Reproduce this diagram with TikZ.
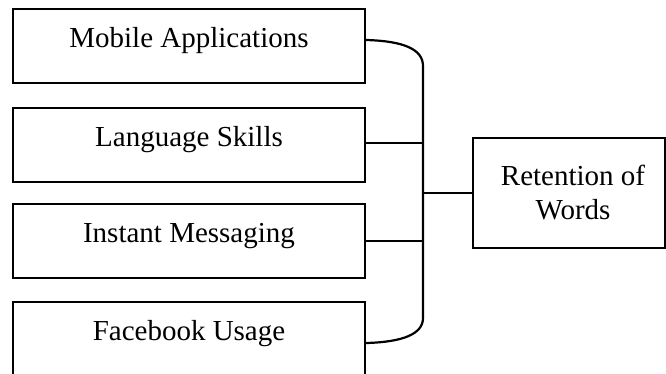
\documentclass[tikz,border=0pt]{standalone}
\usepackage{fontspec}
\setmainfont{Liberation Serif}
\begin{document}
\begin{tikzpicture}[x=1pt,y=-1pt,
  box/.style={draw, line width=2.2pt, minimum width=352pt, minimum height=74pt,
    inner sep=0pt, text height=20pt, text depth=18pt},
  outbox/.style={draw, line width=2.2pt, minimum width=192pt, minimum height=110pt,
    inner sep=0pt, align=center},
  conn/.style={line width=2.2pt}]
\useasboundingbox (0,0) rectangle (666,373);
\clip (0,0) rectangle (666,373);
\fontsize{29}{34}\selectfont
\node[box] (mob) at (189,46) {Mobile Applications};
\node[box] (lang) at (189,145) {Language Skills};
\node[box] (inst) at (189,241) {Instant Messaging};
\node[box] (fb) at (189,339) {Facebook Usage};
\node[outbox] (ret) at (569,193) {\hspace*{8pt}Retention of\\\hspace*{8pt}Words};
\coordinate (btop) at (423,66);
\coordinate (bbot) at (423,318);
\draw[conn] ([yshift=6pt]mob.east) .. controls (403,41) and (423,49) .. (btop) -- (bbot)
  .. controls (423,334) and (403,342) .. ([yshift=-4pt]fb.east);
\draw[conn] ([yshift=2pt]lang.east) -- ([yshift=2pt]lang.east -| btop);
\draw[conn] (inst.east) -- (inst.east -| btop);
\draw[conn] (ret.west) -- (ret.west -| btop);
\end{tikzpicture}
\end{document}
